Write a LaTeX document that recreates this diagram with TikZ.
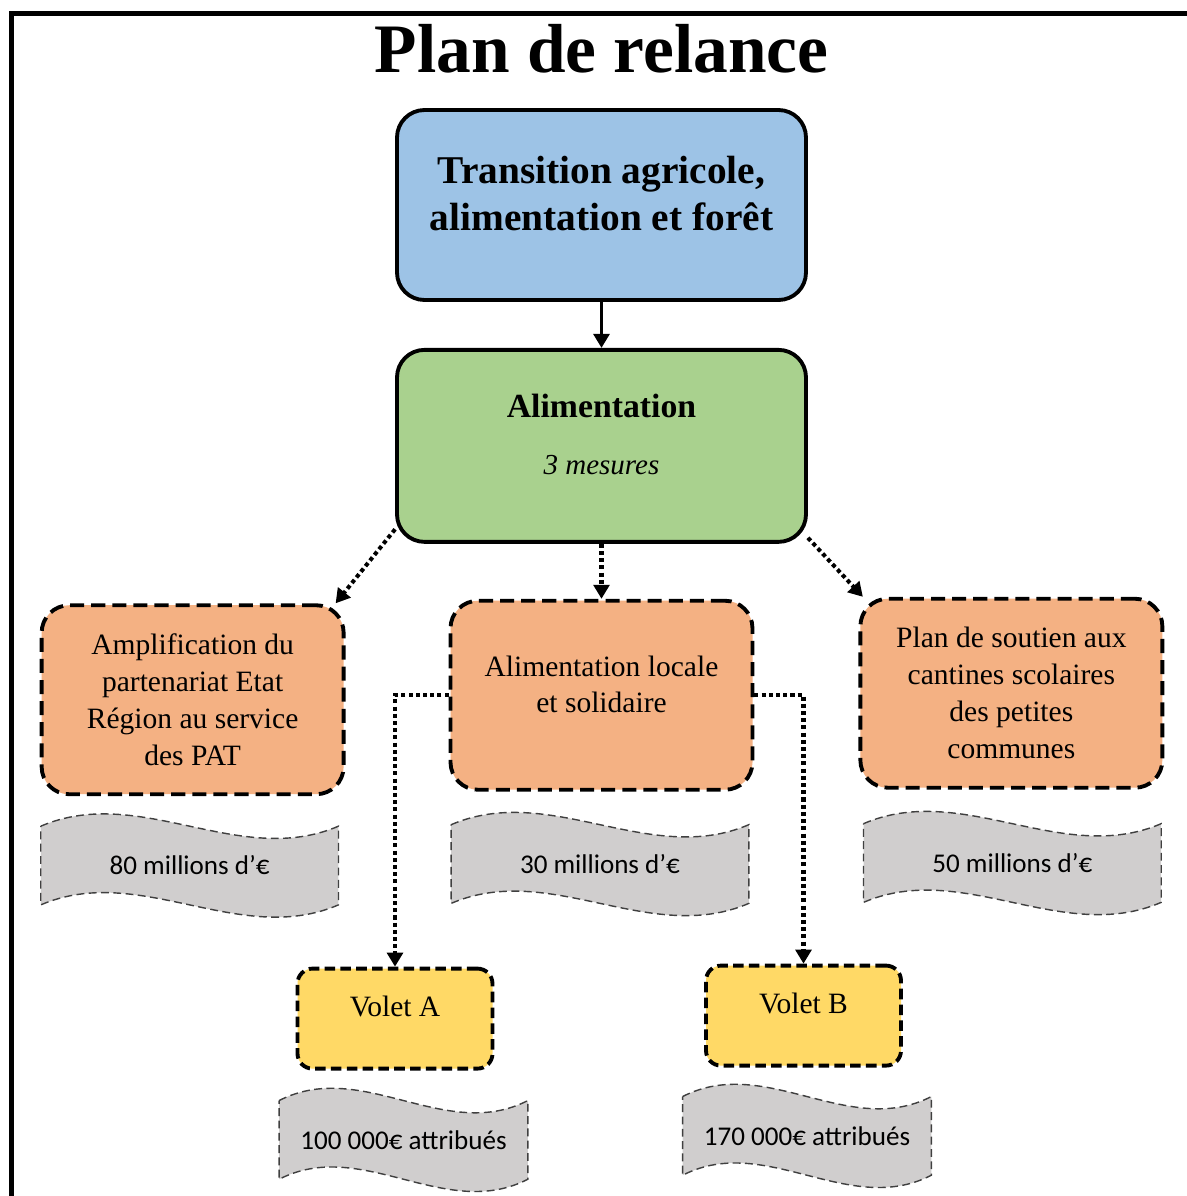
\documentclass[tikz,border=0pt]{standalone}
\usepackage{fontspec}
\setmainfont{Liberation Serif}
\newfontfamily\calibfont{Carlito}
\usepackage{tikz}
\usetikzlibrary{arrows.meta, positioning, backgrounds, calc}

\definecolor{bluefill}{HTML}{9DC3E6}
\definecolor{greenfill}{HTML}{A9D18E}
\definecolor{orangefill}{HTML}{F4B183}
\definecolor{yellowfill}{HTML}{FFD966}
\definecolor{grayfill}{HTML}{D0CECE}

\begin{document}
\begin{tikzpicture}[
    theme/.style={rectangle, draw, rounded corners=0.55cm, line width=2.2pt, minimum width=8.18cm, minimum height=3.8cm, align=center},
    measure/.style={rectangle, draw, rounded corners=0.55cm, line width=2.2pt, dash pattern=on 8pt off 4pt, fill=orangefill, minimum width=6.04cm, minimum height=3.78cm, align=center, font=\fontsize{16.8}{21}\selectfont},
    volet/.style={rectangle, draw, rounded corners=0.3cm, line width=2.2pt, dash pattern=on 6pt off 3pt, fill=yellowfill, minimum width=3.9cm, minimum height=2cm, text depth=13.6pt, font=\fontsize{16.8}{21}\selectfont},
    money/.style={inner sep=0pt, minimum width=5.94cm, minimum height=1.56cm, font=\calibfont\fontsize{15.4}{18}\selectfont},
    wave/.style={draw=black!75, fill=grayfill, line width=0.8pt, dash pattern=on 4.5pt off 2.5pt},
    arrow/.style={draw, line width=2pt, -{Triangle[width=9pt,length=8pt]}},
    dotarrow/.style={arrow, line width=2.3pt, dash pattern=on 2.3pt off 1.8pt}
]
\useasboundingbox (0,0) rectangle (23.74,-23.92);

% Frame and title
\draw[line width=2.6pt] (0.23,-23.92) |- (23.74,-0.27);
\node[anchor=base, font=\fontsize{39.5}{47}\selectfont\bfseries] (title) at (12.03,-1.44) {Plan de relance};

% Nodes
\node[theme, fill=bluefill, text depth=13pt, font=\fontsize{22.4}{27}\selectfont\bfseries] (trans) at (12.03,-4.1) {Transition agricole,\\alimentation et forêt};
\node[theme, fill=greenfill, below=0.92cm of trans, minimum height=3.84cm, text depth=13.6pt, font=\fontsize{19.2}{23}\selectfont] (ali) {\textbf{Alimentation}\\[9.4pt]{\fontsize{16.5}{20}\selectfont\itshape 3 mesures}};
\node[measure, below=1.1cm of ali, text depth=12.5pt] (alo) {Alimentation locale\\et solidaire};
\node[measure, left=2.06cm of alo, yshift=-0.09cm] (amp) {Amplification du\\partenariat Etat\\Région au service\\des PAT};
\node[measure, right=2.08cm of alo, yshift=0.04cm] (plan) {Plan de soutien aux\\cantines scolaires\\des petites\\communes};
\node[volet, below=3.5cm of alo, xshift=-4.13cm] (va) {Volet A};
\node[volet, below=3.44cm of alo, xshift=4.04cm] (vb) {Volet B};

% Budgets
\node[money, below=0.6cm of amp, xshift=-0.06cm] (m1) {80 millions d’€};
\node[money, below=0.66cm of alo, xshift=-0.03cm] (m2) {30 millions d’€};
\node[money, below=0.68cm of plan, xshift=0.02cm] (m3) {50 millions d’€};
\node[money, below=0.6cm of va, xshift=0.17cm, minimum width=4.96cm] (wa) {100 000€ attribués};
\node[money, below=0.58cm of vb, xshift=0.07cm, minimum width=4.96cm] (wb) {170 000€ attribués};

\begin{scope}[on background layer]
\foreach \m in {m1,m2,m3,wa,wb}
  \draw[wave] (\m.north west)
    .. controls ($(\m.north west)!0.333!(\m.north east)+(0,0.85)$) and ($(\m.north west)!0.667!(\m.north east)-(0,0.85)$) .. (\m.north east)
    -- (\m.south east)
    .. controls ($(\m.south west)!0.667!(\m.south east)-(0,0.85)$) and ($(\m.south west)!0.333!(\m.south east)+(0,0.85)$) .. (\m.south west)
    -- cycle;
\end{scope}

% Connections
\draw[arrow] (trans) -- (ali);
\draw[dotarrow] (ali.202) -- (amp.34);
\draw[dotarrow] (ali) -- (alo);
\draw[dotarrow] (ali.336) -- (plan.147);
\draw[dotarrow] (alo.west) -| (va.north);
\draw[dotarrow] (alo.east) -| (vb.north);

\end{tikzpicture}
\end{document}
